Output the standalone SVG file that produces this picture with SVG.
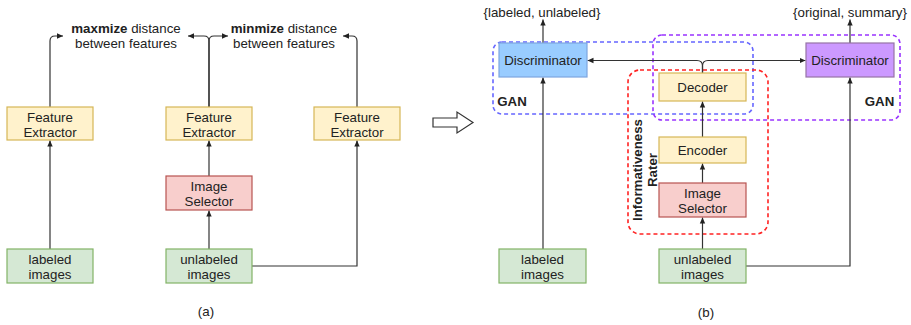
<svg xmlns="http://www.w3.org/2000/svg" width="911" height="325" viewBox="0 0 911 325">
<defs>
<style>
text{font-family:"Liberation Sans",Arial,sans-serif;font-size:13.3px;fill:#222;text-anchor:middle}
.b{font-weight:bold}
.y{fill:#FFF2CC;stroke:#D6B656;stroke-width:1.2}
.r{fill:#F8CECC;stroke:#B85450;stroke-width:1.2}
.g{fill:#D5E8D4;stroke:#82B366;stroke-width:1.2}
.db{fill:#99CCFF;stroke:#7EA6E0;stroke-width:1.2}
.dp{fill:#CC99FF;stroke:#9673A6;stroke-width:1.2}
.c{fill:none;stroke:#333;stroke-width:1.2}
.ca{fill:none;stroke:#333;stroke-width:1.2;marker-end:url(#ah)}
.dash{fill:none;stroke-width:1.6;stroke-dasharray:4 3}
</style>
<marker id="ah" markerUnits="userSpaceOnUse" markerWidth="7" markerHeight="7" viewBox="0 0 7 7" refX="6" refY="3.5" orient="auto">
<path d="M0,0.8 L6,3.5 L0,6.2 Z" fill="#222"/>
</marker>
</defs>
<rect width="911" height="325" fill="#fff"/>

<!-- dashed groups (b) -->
<g id="gan-blue">
<rect class="dash" x="493" y="42" width="260" height="72" rx="9" stroke="#6666FF"/>
<text class="b" x="512" y="105.5">GAN</text>
</g>
<g id="gan-purple">
<rect class="dash" x="653" y="35" width="247" height="85" rx="9" stroke="#9933FF"/>
<text class="b" x="879.5" y="105.5">GAN</text>
</g>
<g id="rater">
<rect class="dash" x="628" y="70" width="140" height="164" rx="12" stroke="#FF2222"/>
<text class="b" transform="rotate(-90)" x="-170" y="641.5">Informativeness</text>
<text class="b" transform="rotate(-90)" x="-170" y="656.5">Rater</text>
</g>

<g id="connectors">
<!-- (a) -->
<path class="ca" d="M50,249 L50,140.5"/>
<path class="ca" d="M50,107 L50,41 Q50,36 55,36 L63,36"/>
<path class="ca" d="M209,249 L209,210.5"/>
<path class="ca" d="M209,176 L209,140.5"/>
<path class="ca" d="M209,107 L209,41 Q209,36 204,36 L188,36"/>
<path class="ca" d="M209,107 L209,41 Q209,36 214,36 L228,36"/>
<path class="ca" d="M252,266 L357,266 L357,140.5"/>
<path class="ca" d="M357,107 L357,41 Q357,36 352,36 L343,36"/>
<polygon points="433,118 457,118 457,112 473,122.5 457,133 457,127 433,127" fill="#fff" stroke="#333" stroke-width="1.2"/>
<!-- (b) -->
<path class="ca" d="M543,43 L543,19.5"/>
<path class="ca" d="M543,249 L543,77.5"/>
<path class="ca" d="M850,43 L850,19.5"/>
<path class="ca" d="M746,266 L850,266 L850,77.5"/>
<path class="ca" d="M702.5,249 L702.5,217.5"/>
<path class="ca" d="M702.5,183 L702.5,163.5"/>
<path class="ca" d="M702.5,137 L702.5,101.5"/>
<path class="ca" d="M702.5,73 L702.5,66 Q702.5,60.5 697,60.5 L587.5,60.5"/>
<path class="ca" d="M702.5,73 L702.5,66 Q702.5,60.5 708,60.5 L805.5,60.5"/>
</g>

<!-- (a) nodes -->
<g id="a-text-max"><text x="126" y="33"><tspan class="b">maxmize</tspan> distance</text><text x="126" y="48">between features</text></g>
<g id="a-text-min"><text x="284" y="33"><tspan class="b">minmize</tspan> distance</text><text x="284" y="48">between features</text></g>
<g id="a-fe1"><rect class="y" x="7" y="107" width="86" height="33"/><text x="50" y="121.5">Feature</text><text x="50" y="136.5">Extractor</text></g>
<g id="a-fe2"><rect class="y" x="166" y="107" width="86" height="33"/><text x="209" y="121.5">Feature</text><text x="209" y="136.5">Extractor</text></g>
<g id="a-fe3"><rect class="y" x="314" y="107" width="86" height="33"/><text x="357" y="121.5">Feature</text><text x="357" y="136.5">Extractor</text></g>
<g id="a-sel"><rect class="r" x="166" y="176" width="86" height="34"/><text x="209" y="190.5">Image</text><text x="209" y="205.5">Selector</text></g>
<g id="a-lab"><rect class="g" x="7" y="249" width="86" height="34"/><text x="50" y="263.5">labeled</text><text x="50" y="278.5">images</text></g>
<g id="a-unl"><rect class="g" x="166" y="249" width="86" height="34"/><text x="209" y="263.5">unlabeled</text><text x="209" y="278.5">images</text></g>
<g id="a-cap"><text x="206" y="316">(a)</text></g>

<!-- (b) nodes -->
<g id="b-out1"><text x="542" y="17">{labeled, unlabeled}</text></g>
<g id="b-out2"><text x="850" y="17">{original, summary}</text></g>
<g id="b-disc1"><rect class="db" x="499" y="43" width="88" height="34"/><text x="543" y="65">Discriminator</text></g>
<g id="b-disc2"><rect class="dp" x="806" y="43" width="88" height="34"/><text x="850" y="65">Discriminator</text></g>
<g id="b-dec"><rect class="y" x="659" y="73" width="87" height="28"/><text x="702.5" y="92">Decoder</text></g>
<g id="b-enc"><rect class="y" x="659" y="137" width="87" height="26"/><text x="702.5" y="155">Encoder</text></g>
<g id="b-sel"><rect class="r" x="659" y="183" width="87" height="34"/><text x="702.5" y="197.5">Image</text><text x="702.5" y="212.5">Selector</text></g>
<g id="b-lab"><rect class="g" x="499" y="249" width="87" height="34"/><text x="542.5" y="263.5">labeled</text><text x="542.5" y="278.5">images</text></g>
<g id="b-unl"><rect class="g" x="659" y="249" width="87" height="34"/><text x="702.5" y="263.5">unlabeled</text><text x="702.5" y="278.5">images</text></g>
<g id="b-cap"><text x="706" y="317">(b)</text></g>
</svg>
